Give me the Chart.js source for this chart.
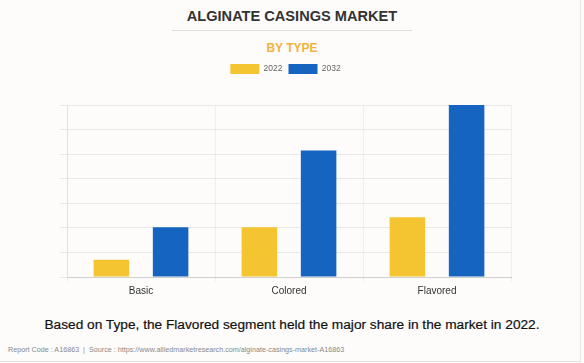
<!DOCTYPE html>
<html>
<head>
<meta charset="utf-8">
<script src="https://cdn.jsdelivr.net/npm/chart.js@4"></script>
<style>
  html, body { margin: 0; padding: 0; }
  body {
    width: 584px; height: 363px; position: relative; overflow: hidden;
    background: #fdfcfb; font-family: "Liberation Sans", Arial, sans-serif;
  }
  .frame { position: absolute; left: 0; top: 0; width: 580px; height: 361px; border-right: 1px solid #e4e4e4; border-bottom: 1px solid #e4e4e4; }
  .title { position: absolute; left: 0; width: 584px; top: 8px; text-align: center; font-weight: bold; font-size: 14.6px; color: #333; }
  .sep { position: absolute; left: 172px; width: 240px; top: 30px; height: 1px; background: #dedede; }
  .sub { position: absolute; left: 0; width: 584px; top: 41px; text-align: center; font-weight: bold; font-size: 12px; color: #f2b33d; }
  #wrap { position: absolute; left: 0; top: 58px; width: 584px; height: 242px; }
  .caption { position: absolute; left: 0; width: 584px; top: 317px; text-align: center; font-size: 13.7px; color: #111; -webkit-text-stroke: 0.2px #111; }
  .foot { position: absolute; left: 8px; top: 345px; font-size: 7.2px; color: #888; }
</style>
</head>
<body>
<div class="frame"></div>
<div class="title">ALGINATE CASINGS MARKET</div>
<div class="sep"></div>
<div class="sub">BY TYPE</div>
<div id="wrap"><canvas id="myChart1"></canvas></div>
<div class="caption">Based on Type, the Flavored segment held the major share in the market in 2022.</div>
<div class="foot">Report Code : A16863 &nbsp;|&nbsp; Source : https://www.alliedmarketresearch.com/alginate-casings-market-A16863</div>

<script>
// values (relative units, axis has no labels)
const categories = ["Basic", "Colored", "Flavored"];
const series2022 = [0.7, 2.02, 2.43];
const series2032 = [2.02, 5.15, 7.0];

const ctx = document.getElementById("myChart1");

// more room under the legend
const legendGap = {
  id: "legendGap",
  beforeInit(chart) {
    const fit = chart.legend.fit;
    chart.legend.fit = function () {
      fit.bind(chart.legend)();
      this.height += 21;
    };
  },
};

new Chart(ctx, {
  type: "bar",
  data: {
    labels: categories,
    datasets: [
      {
        label: "2022",
        data: series2022,
        backgroundColor: "#F5C431",
        categoryPercentage: 0.8,
        barPercentage: 0.6,
      },
      {
        label: "2032",
        data: series2032,
        backgroundColor: "#1565C0",
        categoryPercentage: 0.8,
        barPercentage: 0.6,
      },
    ],
  },
  options: {
    responsive: true,
    maintainAspectRatio: false,
    animation: false,
    layout: {
      padding: { left: 60, right: 73, top: 0, bottom: 0 },
    },
    scales: {
      x: {
        grid: { color: "#efefef", tickLength: 5 },
        border: { color: "#cfcfcf" },
        ticks: {
          color: "#333",
          padding: 3,
          font: { size: 10, family: "Liberation Sans" },
        },
      },
      y: {
        beginAtZero: true,
        min: 0,
        max: 7,
        grid: { color: "#e8e8e8", tickLength: 7 },
        border: { color: "#e0e0e0" },
        ticks: { stepSize: 1, display: false },
      },
    },
    plugins: {
      legend: {
        labels: {
          color: "#666",
          boxWidth: 29,
          boxHeight: 10,
          padding: 6,
          font: { size: 8.5, family: "Liberation Sans" },
        },
      },
      tooltip: { enabled: false },
    },
  },
  plugins: [legendGap],
});
</script>
</body>
</html>
